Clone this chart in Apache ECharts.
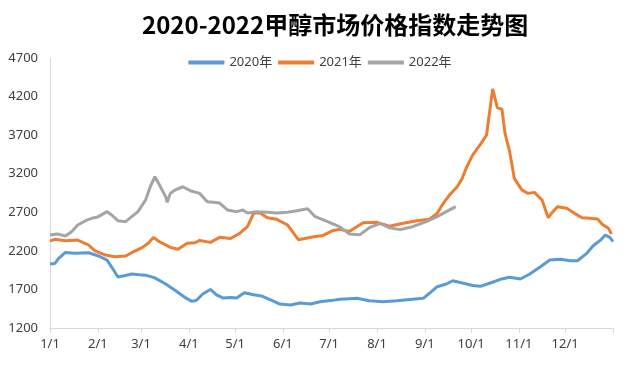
<!DOCTYPE html>
<html><head><meta charset="utf-8">
<script src="https://cdn.jsdelivr.net/npm/echarts@6/dist/echarts.min.js"></script>
<style>html,body{margin:0;padding:0;background:#fff}#c{width:640px;height:366px}</style>
</head><body><div id="c"></div>
<script>
// Day of year for each reading (0 = 1/1)
const days2020 = [0,3,6,10,16,25,29,32,37,40,44,49,53,58,62,68,75,81,88,92,95,99,104,108,112,117,121,126,132,137,143,149,156,162,169,175,182,188,194,199,207,216,225,235,242,246,251,257,261,268,274,279,285,292,298,305,311,318,324,331,337,342,348,352,357,360,363,365];
const values2020 = [2030,2035,2110,2180,2170,2175,2150,2130,2080,1990,1860,1880,1900,1890,1885,1850,1770,1690,1590,1545,1560,1640,1700,1630,1590,1595,1590,1658,1630,1615,1563,1511,1498,1524,1511,1541,1555,1572,1580,1585,1554,1541,1554,1572,1585,1650,1735,1770,1813,1780,1750,1740,1780,1831,1857,1835,1900,1995,2081,2090,2072,2072,2168,2263,2340,2405,2375,2320];

const days2021 = [0,3,10,18,25,29,36,42,49,53,60,64,67,71,78,83,89,94,97,104,110,117,123,128,132,136,141,147,154,158,161,171,177,183,188,194,203,212,220,229,238,246,251,255,259,264,267,270,274,279,283,287,290,293,295,298,301,306,310,314,319,323,326,329,335,340,345,350,355,358,362,364];
const values2021 = [2327,2350,2332,2340,2276,2202,2146,2124,2133,2176,2245,2305,2375,2318,2245,2220,2298,2305,2335,2310,2375,2360,2427,2513,2686,2695,2630,2609,2535,2427,2345,2383,2400,2460,2479,2450,2565,2570,2520,2557,2591,2609,2686,2816,2924,3031,3130,3280,3440,3580,3700,4300,4055,4038,3723,3485,3140,2988,2945,2958,2859,2630,2708,2772,2751,2686,2630,2622,2613,2544,2492,2420];

const days2022 = [0,5,10,14,18,23,27,31,37,40,44,49,53,57,62,65,68,71,75,76,78,81,86,91,97,102,106,110,115,121,125,128,134,141,147,154,160,167,172,180,188,194,201,207,214,220,227,235,244,251,257,263];
const values2022 = [2405,2418,2392,2448,2535,2591,2622,2640,2708,2665,2591,2578,2643,2708,2859,3031,3161,3053,2900,2830,2945,2988,3031,2980,2945,2837,2830,2820,2730,2708,2730,2690,2708,2700,2690,2700,2720,2745,2643,2578,2510,2420,2410,2500,2557,2500,2475,2513,2578,2643,2708,2773];

const monthStarts = [0,31,59,90,120,151,181,212,243,273,304,334];
const monthLabels = ['1/1','2/1','3/1','4/1','5/1','6/1','7/1','8/1','9/1','10/1','11/1','12/1'];
const seriesNames = ['2020年','2021年','2022年'];
const yTicks = [1200,1700,2200,2700,3200,3700,4200,4700];

function pairs(d, v){ return d.map((x,i)=>[x, v[i]]); }

const chart = echarts.init(document.getElementById('c'), null, {renderer:'canvas'});
const font = '"Noto Sans", "Noto Sans CJK SC", sans-serif';
chart.setOption({
  animation:false,
  backgroundColor:'#fff',
  title:{
    text:'2020-2022甲醇市场价格指数走势图',
    left:137, top:8,
    textStyle:{fontFamily:'"Noto Sans CJK SC", sans-serif', fontWeight:'bold', fontSize:24, color:'#000'}
  },
  legend:{
    top:51, left:'center', itemWidth:36, itemHeight:4, itemGap:6,
    icon:'rect',
    textStyle:{fontFamily:font, fontSize:13, color:'#404040'},
    data:seriesNames
  },
  grid:{left:50, right:27, top:58, bottom:38, containLabel:false},
  xAxis:{
    type:'value', min:0, max:365,
    axisLine:{lineStyle:{color:'#D9D9D9', width:1}},
    axisTick:{show:true, length:5, customValues: monthStarts.concat([365]), lineStyle:{color:'#D9D9D9'}},
    axisLabel:{customValues: monthStarts, margin:10, fontFamily:font, fontSize:13, color:'#404040',
      formatter:function(v){ const i = monthStarts.indexOf(Math.round(v)); return i>=0?monthLabels[i]:''; }},
    splitLine:{show:false}
  },
  yAxis:{
    type:'value', min:yTicks[0], max:yTicks[yTicks.length-1], interval:500,
    axisLine:{show:true, lineStyle:{color:'#D9D9D9', width:1}},
    axisTick:{show:false},
    axisLabel:{margin:12, fontFamily:font, fontSize:13, color:'#404040', formatter:function(v){return String(v);}},
    splitLine:{show:false}
  },
  series:[
    {name:seriesNames[0], type:'line', data:pairs(days2020, values2020), showSymbol:false, lineStyle:{width:3, color:'#5B9BD5'}, itemStyle:{color:'#5B9BD5'}},
    {name:seriesNames[1], type:'line', data:pairs(days2021, values2021), showSymbol:false, lineStyle:{width:3, color:'#ED7D31'}, itemStyle:{color:'#ED7D31'}},
    {name:seriesNames[2], type:'line', data:pairs(days2022, values2022), showSymbol:false, lineStyle:{width:3, color:'#A5A5A5'}, itemStyle:{color:'#A5A5A5'}}
  ]
});
</script>
</body></html>
